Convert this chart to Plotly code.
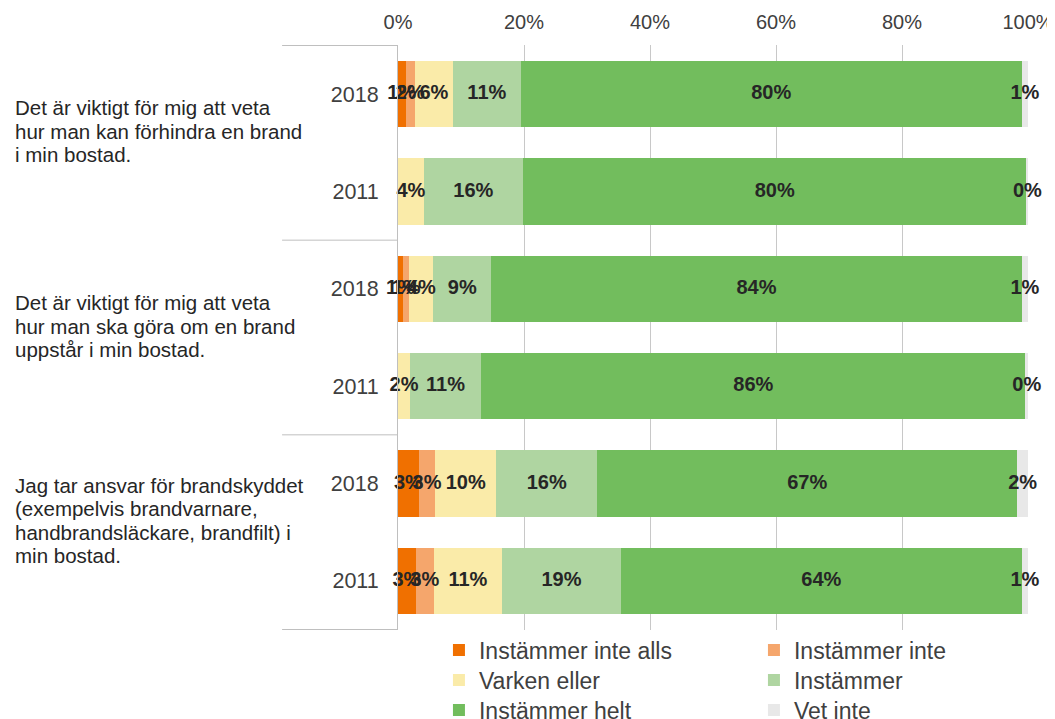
import plotly.graph_objects as go

questions = [
    "Det är viktigt för mig att veta<br>hur man kan förhindra en brand<br>i min bostad.",
    "Det är viktigt för mig att veta<br>hur man ska göra om en brand<br>uppstår i min bostad.",
    "Jag tar ansvar för brandskyddet<br>(exempelvis brandvarnare,<br>handbrandsläckare, brandfilt) i<br>min bostad.",
]
years = ["2018", "2011"]
series_names = ["Instämmer inte alls", "Instämmer inte", "Varken eller",
                "Instämmer", "Instämmer helt", "Vet inte"]
colors = ["#F07000", "#F5A66C", "#FAEBA9", "#AFD5A1", "#72BD5D", "#E8E8E8"]

# rows: Q1-2018, Q1-2011, Q2-2018, Q2-2011, Q3-2018, Q3-2011
inte_alls = [1.2, 0.0, 0.8, 0.0, 3.3, 2.8]
inte      = [1.5, 0.0, 1.0, 0.0, 2.6, 2.9]
varken    = [6.0, 4.1, 3.8, 1.9, 9.7, 10.8]
instammer = [10.8, 15.7, 9.2, 11.3, 16.0, 18.9]
helt      = [79.5, 80.0, 84.2, 86.4, 66.7, 63.6]
vet_inte  = [1.0, 0.2, 1.0, 0.4, 1.7, 1.0]
series_values = [inte_alls, inte, varken, instammer, helt, vet_inte]

x_ticks = [0, 20, 40, 60, 80, 100]
x_ticktext = ["0%", "20%", "40%", "60%", "80%", "100%"]

cats = [f"{qi}|{yr}" for qi in range(len(questions)) for yr in years]
cat_labels = [yr for _ in questions for yr in years]

FONT = "Liberation Sans, Arial, sans-serif"
fig = go.Figure()

legend_ids = ["legend", "legend", "legend2", "legend2", "legend3", "legend3"]
for name, vals, col, lg in zip(series_names, series_values, colors, legend_ids):
    fig.add_trace(go.Bar(
        y=cats, x=vals, name=name, orientation="h",
        marker=dict(color=col, line=dict(width=0)),
        hoverinfo="skip", legend=lg,
    ))

# labels at segment centres
cum = [0.0] * len(cats)
for si, vals in enumerate(series_values):
    xs, ts = [], []
    for i, v in enumerate(vals):
        xs.append(cum[i] + v / 2)
        show = v > 0 or si == len(series_values) - 1
        ts.append(f"{v:.0f}%" if show else "")
        cum[i] += v
    fig.add_trace(go.Scatter(
        y=cats, x=xs, text=ts, mode="text", showlegend=False,
        textfont=dict(family=FONT, size=20, color="#262626", weight="bold"),
        textposition="middle center", cliponaxis=False, hoverinfo="skip",
    ))

# question labels (one annotation per line for tighter line spacing)
LINE_H = 23.5
for qi, q in enumerate(questions):
    lines = q.split("<br>")
    n = len(lines)
    for li, line in enumerate(lines):
        fig.add_annotation(
            x=-0.611, xref="paper", y=qi * 2 + 0.5, yref="y",
            text=line, showarrow=False, xanchor="left", yanchor="middle",
            align="left", yshift=11.5 - (li - (n - 1) / 2) * LINE_H,
            font=dict(family=FONT, size=20.5, color="#262626"),
        )
for k in range(len(questions) + 1):
    fig.add_shape(type="line", xref="paper", yref="y",
                  x0=-0.184, x1=0, y0=k * 2 - 0.5, y1=k * 2 - 0.5,
                  line=dict(color="#BFBFBF", width=1))

leg_common = dict(
    orientation="h", x=0.065, xanchor="left", yanchor="middle",
    entrywidth=270, entrywidthmode="pixels", traceorder="normal",
    font=dict(family=FONT, size=23, color="#404040"),
    bgcolor="rgba(0,0,0,0)",
)

fig.update_layout(
    width=1055, height=719,
    margin=dict(l=390, r=35, t=37, b=97, autoexpand=False),
    barmode="stack", bargap=0.32,
    paper_bgcolor="white", plot_bgcolor="white",
    font=dict(family=FONT, color="#404040"),
    xaxis=dict(
        side="top", range=[0, 100], tickvals=x_ticks, ticktext=x_ticktext,
        showgrid=True, gridcolor="#C8C8C8", gridwidth=1, zeroline=False,
        showline=False, tickfont=dict(size=20, color="#404040"),
        ticks="", ticklabelstandoff=11, automargin=False,
    ),
    yaxis=dict(
        categoryorder="array", categoryarray=cats, autorange="reversed",
        tickvals=cats, ticktext=cat_labels, showgrid=False,
        showline=True, linecolor="#BFBFBF", linewidth=1,
        tickfont=dict(size=21.5, color="#404040"), ticks="",
        ticklabelstandoff=14, range=[len(cats) - 0.5, -0.5], automargin=False,
    ),
    legend=dict(y=-0.0342, **leg_common),
    legend2=dict(y=-0.0855, **leg_common),
    legend3=dict(y=-0.1368, **leg_common),
    showlegend=True,
)

fig.write_html("out.html")
